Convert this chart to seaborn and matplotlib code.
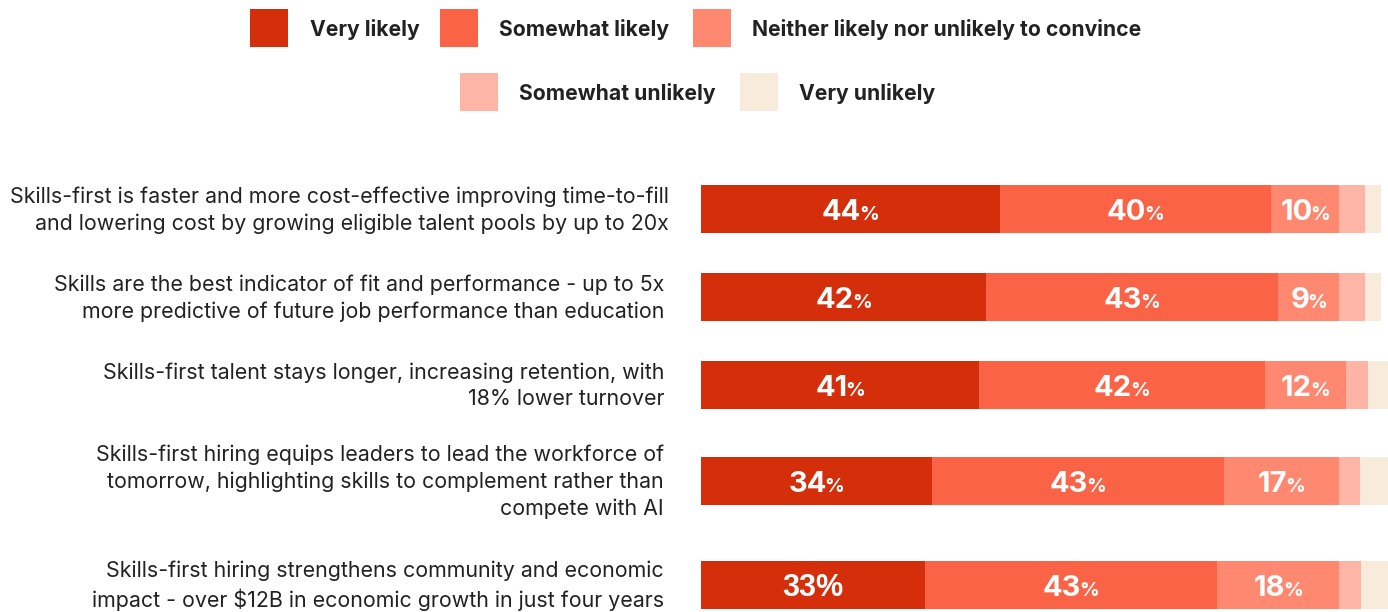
import matplotlib
matplotlib.use("Agg")
import matplotlib.pyplot as plt
from matplotlib.patches import Rectangle
import seaborn as sns
import pandas as pd

# Survey responses: how likely each argument is to convince (percent of respondents)
categories = [
    "Skills-first is faster and more cost-effective improving time-to-fill\nand lowering cost by growing eligible talent pools by up to 20x",
    "Skills are the best indicator of fit and performance - up to 5x\nmore predictive of future job performance than education",
    "Skills-first talent stays longer, increasing retention, with\n18% lower turnover",
    "Skills-first hiring equips leaders to lead the workforce of\ntomorrow, highlighting skills to complement rather than\ncompete with AI",
    "Skills-first hiring strengthens community and economic\nimpact - over $12B in economic growth in just four years",
]
response_levels = ["Very likely", "Somewhat likely", "Neither likely nor unlikely to convince",
                   "Somewhat unlikely", "Very unlikely"]
very_likely = [44, 42, 41, 34, 33]
somewhat_likely = [40, 43, 42, 43, 43]
neither = [10, 9, 12, 17, 18]
somewhat_unlikely = [3.8, 3.8, 3.2, 3.1, 3.2]
very_unlikely = [2.4, 2.4, 3.1, 4.3, 4.3]
labeled_levels = 3  # value labels are printed on the first three segments

colors = ["#D52E0B", "#FA6346", "#FF8970", "#FFB5A5", "#F9EBDC"]

# Layout (figure pixels)
W, H = 1388, 612
row_centers = [209, 297, 385, 481, 585]
bar_px = 48
bar_left_px = 701
px_per_pct = 6.79
label_right_px = [669, 664, 664, 664, 664]

sns.set_theme(style="white")
plt.rcParams["font.family"] = ["Inter", "DejaVu Sans"]

fig = plt.figure(figsize=(W / 100, H / 100), dpi=100)
fig.patch.set_facecolor("white")
ax = fig.add_axes([bar_left_px / W, 0, (W - bar_left_px) / W, 1])

series = [very_likely, somewhat_likely, neither, somewhat_unlikely, very_unlikely]
cum = [0] * len(categories)
cums = []
for s in series:
    cum = [c + v for c, v in zip(cum, s)]
    cums.append(list(cum))

min_gap = min(b - a for a, b in zip(row_centers[:-1], row_centers[1:]))
# draw stacked segments back to front so each total overlaps the next
for level in reversed(range(len(series))):
    d = pd.DataFrame({"row": row_centers, "total": cums[level]})
    sns.barplot(data=d, x="total", y="row", orient="y", native_scale=True,
                width=bar_px / min_gap, color=colors[level], saturation=1,
                errorbar=None, linewidth=0, ax=ax)

ax.set_xlim(0, (W - bar_left_px) / px_per_pct)
ax.set_ylim(H, 0)
ax.axis("off")

fig.canvas.draw()
renderer = fig.canvas.get_renderer()
inv = ax.transData.inverted()


def value_label(xc, yc, value, small_pct=True):
    cx, cy = ax.transData.transform((xc, yc))
    base = cy - 11
    if small_pct:
        t1 = ax.text(0, 0, f"{value}", fontsize=21, fontweight="bold", color="white",
                     ha="left", va="baseline")
        t2 = ax.text(0, 0, "%", fontsize=14, fontweight="bold", color="white",
                     ha="left", va="baseline")
        w1 = t1.get_window_extent(renderer).width
        w2 = t2.get_window_extent(renderer).width
        gap = -2
        left = cx - (w1 + gap + w2) / 2
        t1.set_position(inv.transform((left, base)))
        t2.set_position(inv.transform((left + w1 + gap, base)))
    else:
        t = ax.text(0, 0, f"{value}%", fontsize=22, fontweight="bold", color="white",
                    ha="center", va="baseline", family="Liberation Sans")
        t.set_position(inv.transform((cx, base)))


for i in range(len(categories)):
    left = 0
    for level in range(labeled_levels):
        v = series[level][i]
        value_label(left + v / 2, row_centers[i], v,
                    small_pct=not (i == len(categories) - 1 and level == 0))
        left += v

# Category labels, right aligned next to the bars
for cat, yc, xr in zip(categories, row_centers, label_right_px):
    fig.text(xr / W, 1 - (yc + 1) / H, cat, ha="right", va="center",
             multialignment="right", fontsize=15.4, color="#222222", linespacing=1.40)

# Legend in two centred rows
legend_items = [
    (0, 250, 310, 28), (1, 440, 499, 28), (2, 693, 752, 28),
    (3, 460, 519, 92), (4, 740, 799, 92),
]
sq = 38
for level, sx, tx, ty in legend_items:
    fig.add_artist(Rectangle((sx / W, 1 - (ty + sq / 2) / H), sq / W, sq / H,
                             transform=fig.transFigure, facecolor=colors[level],
                             edgecolor="none"))
    fig.text(tx / W, 1 - (ty + 1.5) / H, response_levels[level], ha="left", va="center",
             fontsize=15.2, fontweight="bold", color="#222222")

fig.savefig("out.png", dpi=100)
